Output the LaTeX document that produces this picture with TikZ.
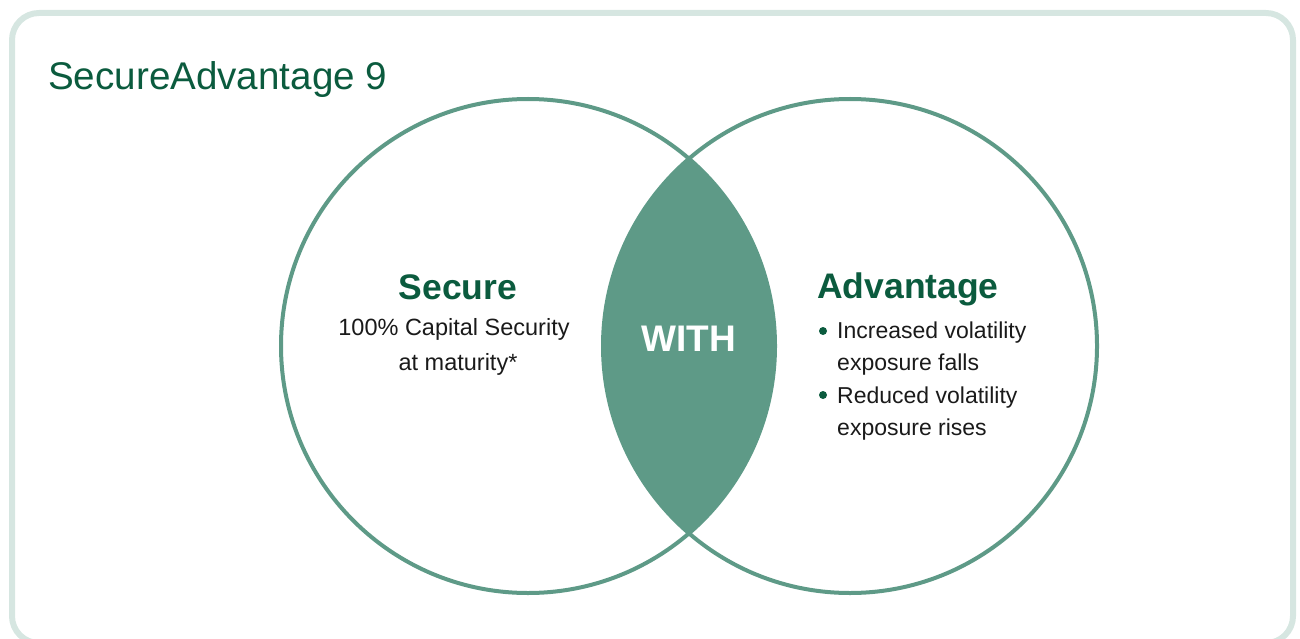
\documentclass[tikz,border=0pt]{standalone}
\usepackage{fontspec}
\setmainfont{Liberation Sans}
\definecolor{framec}{HTML}{D6E6E1}
\definecolor{venn}{HTML}{5E9A87}
\definecolor{dgreen}{HTML}{0B5B3E}
\definecolor{bodyc}{HTML}{1A1A1A}
\tikzset{
  heading/.style={anchor=base, text=dgreen, font=\fontsize{35.5}{35.5}\selectfont\bfseries, inner sep=0},
  bodytxt/.style={anchor=base, text=bodyc, font=\fontsize{23.5}{23.5}\selectfont, inner sep=0},
  bullettxt/.style={anchor=base west, text=bodyc, font=\fontsize{23}{23}\selectfont, inner sep=0},
  bulletdot/.style={circle, fill=dgreen, inner sep=0, minimum size=8},
  ring/.style={draw=venn, line width=4},
}
\begin{document}
\begin{tikzpicture}[x=1pt,y=-1pt]
\useasboundingbox (0,0) rectangle (1300,639);
% frame
\draw[framec, line width=6, rounded corners=27] (12,13) rectangle (1293,643);
% circles
\coordinate (L) at (528,346);
\coordinate (R) at (850,346);
\begin{scope}
  \clip (L) circle (247);
  \fill[venn] (R) circle (247);
\end{scope}
\draw[ring] (L) circle (247);
\draw[ring] (R) circle (247);
% title
\node[anchor=base west, text=dgreen, inner sep=0, font=\fontsize{38.6}{38.6}\selectfont] (title) at (48,90) {SecureAdvantage 9};
% left
\node[heading] (secure) at (458,299) {Secure};
\node[bodytxt] (s1) at (454,335) {100\% Capital Security};
\node[bodytxt] (s2) at (458,370) {at maturity*};
% middle
\node[anchor=base, text=white, inner sep=0, font=\fontsize{37}{37}\selectfont\bfseries] (with) at (689,351) {WITH};
% right
\node[heading, anchor=base west] (adv) at (817,298) {Advantage};
\node[bulletdot] (b1) at (823,331) {};
\node[bullettxt] (a1) at (837,338) {Increased volatility};
\node[bullettxt] (a2) at (837,370) {exposure falls};
\node[bulletdot] (b2) at (823,395) {};
\node[bullettxt] (a3) at (837,403) {Reduced volatility};
\node[bullettxt] (a4) at (837,435) {exposure rises};
\end{tikzpicture}
\end{document}
